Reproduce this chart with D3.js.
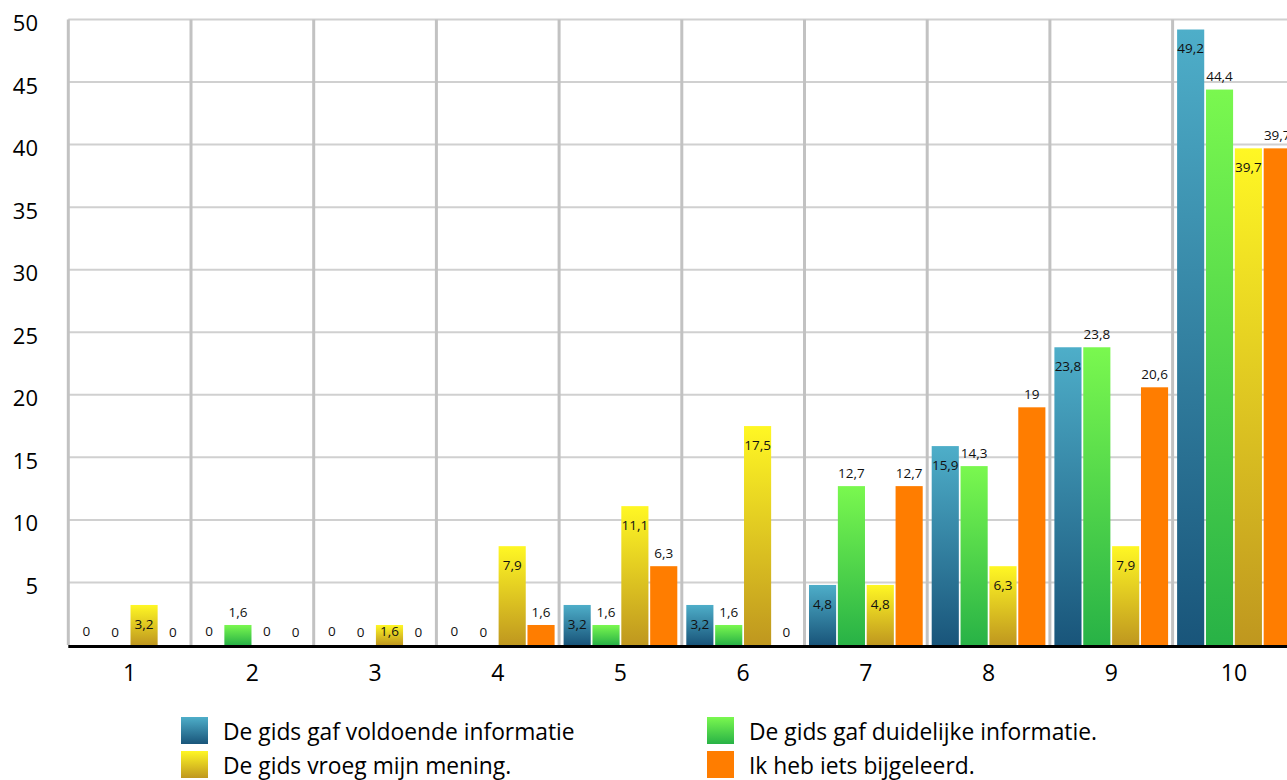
<!DOCTYPE html>
<html>
<head>
<meta charset="utf-8">
<script src="https://cdn.jsdelivr.net/npm/d3@7"></script>
<style>
  html, body { margin: 0; padding: 0; background: #ffffff; overflow: hidden; }
  svg { display: block; font-family: "Open Sans", "Noto Sans", sans-serif; }
</style>
</head>
<body>
<svg id="chart" width="1287" height="780"></svg>
<script>
// Scores 1..10 and the share (%) of answers per statement
const categories = ["1", "2", "3", "4", "5", "6", "7", "8", "9", "10"];
const seriesNames = [
  "De gids gaf voldoende informatie",
  "De gids gaf duidelijke informatie.",
  "De gids vroeg mijn mening.",
  "Ik heb iets bijgeleerd."
];
const voldoende  = [0, 0, 0, 0, 3.2, 3.2, 4.8, 15.9, 23.8, 49.2];
const duidelijk  = [0, 1.6, 0, 0, 1.6, 1.6, 12.7, 14.3, 23.8, 44.4];
const mening     = [3.2, 0, 1.6, 7.9, 11.1, 17.5, 4.8, 6.3, 7.9, 39.7];
const bijgeleerd = [0, 0, 0, 1.6, 6.3, 0, 12.7, 19, 20.6, 39.7];
const yTicks = [5, 10, 15, 20, 25, 30, 35, 40, 45, 50];

const seriesValues = [voldoende, duidelijk, mening, bijgeleerd];
// gradient stops (top, bottom); inside: value label sits inside the bar end, else above it
const seriesStyle = [
  { id: "g-blue",   top: "#4eaec9", bottom: "#19557a", inside: true },
  { id: "g-green",  top: "#7af84f", bottom: "#28b246", inside: false },
  { id: "g-yellow", top: "#fff724", bottom: "#bf971f", inside: true },
  { id: "g-orange", top: "#ff7d00", bottom: "#ff7d00", inside: false }
];

const svg = d3.select("#chart");
const plotLeft = 68.3, catStep = 122.7;
const plotRight = plotLeft + catStep * categories.length;
const y0 = 645, yTop = 19.5;

const defs = svg.append("defs");
seriesStyle.forEach(s => {
  const g = defs.append("linearGradient").attr("id", s.id)
    .attr("x1", 0).attr("y1", 0).attr("x2", 0).attr("y2", 1);
  g.append("stop").attr("offset", "0%").attr("stop-color", s.top);
  g.append("stop").attr("offset", "100%").attr("stop-color", s.bottom);
});

const x0 = d3.scaleBand().domain(categories).range([plotLeft, plotRight]).padding(0);
const x1 = d3.scaleBand().domain(d3.range(seriesNames.length))
  .range([4.5, catStep - 4.5]).paddingInner(0.06).paddingOuter(0);
const y = d3.scaleLinear().domain([0, 50]).range([y0, yTop]);

// horizontal gridlines
svg.append("g").selectAll("line").data(yTicks).join("line")
  .attr("x1", plotLeft).attr("x2", plotRight)
  .attr("y1", d => y(d)).attr("y2", d => y(d))
  .attr("stroke", "#d0d0d0").attr("stroke-width", 2);

// vertical category separators
svg.append("g").selectAll("line").data(d3.range(categories.length + 1)).join("line")
  .attr("x1", i => plotLeft + i * catStep).attr("x2", i => plotLeft + i * catStep)
  .attr("y1", yTop).attr("y2", y0)
  .attr("stroke", "#c2c2c2").attr("stroke-width", 3);

// y-axis tick labels
const yAxis = d3.axisLeft(y).tickValues(yTicks).tickSize(0).tickPadding(0);
const yg = svg.append("g").attr("transform", "translate(38,4)").call(yAxis);
yg.select(".domain").remove();
yg.selectAll("text").attr("font-size", 22).attr("fill", "#000")
  .attr("font-family", "'Open Sans', sans-serif");

// x-axis category labels
const xAxis = d3.axisBottom(x0).tickSize(0).tickPadding(0);
const xg = svg.append("g").attr("transform", "translate(0,665)").call(xAxis);
xg.select(".domain").remove();
xg.selectAll("text").attr("font-size", 23).attr("fill", "#000")
  .attr("font-family", "'Open Sans', sans-serif");

// bars
const flat = [];
categories.forEach((c, ci) => {
  seriesValues.forEach((vals, si) => flat.push({ c, si, v: vals[ci] }));
});

const groups = svg.append("g").selectAll("g").data(categories).join("g")
  .attr("transform", c => `translate(${x0(c)},0)`);

groups.selectAll("rect")
  .data(c => flat.filter(d => d.c === c && d.v > 0))
  .join("rect")
  .attr("x", d => x1(d.si))
  .attr("width", x1.bandwidth())
  .attr("y", d => y(d.v))
  .attr("height", d => y0 - y(d.v))
  .attr("fill", d => `url(#${seriesStyle[d.si].id})`);

// value labels
const fmt = v => String(v).replace(".", ",");
groups.selectAll("text.val")
  .data(c => flat.filter(d => d.c === c))
  .join("text")
  .attr("class", "val")
  .attr("x", d => x1(d.si) + x1.bandwidth() / 2)
  .attr("y", d => {
    const top = y(d.v);
    return seriesStyle[d.si].inside ? Math.min(top + 19, 631) : top - 13;
  })
  .attr("dy", "0.35em")
  .attr("text-anchor", "middle")
  .attr("font-size", 13.5)
  .attr("fill", "#111")
  .text(d => fmt(d.v));

// baseline
svg.append("line")
  .attr("x1", plotLeft).attr("x2", plotRight)
  .attr("y1", y0 + 1.5).attr("y2", y0 + 1.5)
  .attr("stroke", "#000").attr("stroke-width", 3);

// legend
const legendPos = [
  { x: 181, y: 717 }, { x: 707, y: 717 },
  { x: 181, y: 751 }, { x: 707, y: 751 }
];
const lg = svg.append("g").selectAll("g").data(seriesNames).join("g")
  .attr("transform", (d, i) => `translate(${legendPos[i].x},${legendPos[i].y})`);
lg.append("rect").attr("width", 27).attr("height", 27)
  .attr("fill", (d, i) => `url(#${seriesStyle[i].id})`);
lg.append("text").attr("x", 42).attr("y", (d, i) => i < 2 ? 22.5 : 22.5)
  .attr("font-size", 22.8).attr("fill", "#000")
  .text(d => d);
</script>
</body>
</html>
